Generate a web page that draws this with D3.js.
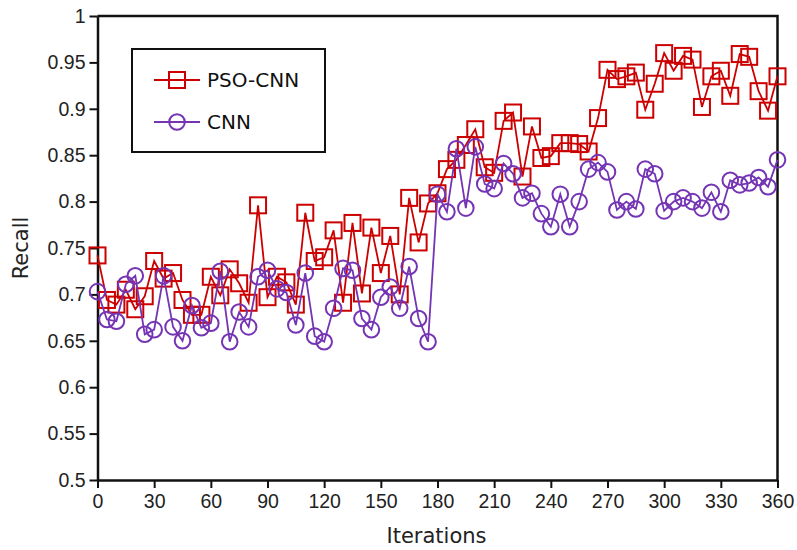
<!DOCTYPE html>
<html>
<head>
<meta charset="utf-8">
<script src="https://cdn.jsdelivr.net/npm/d3@7"></script>
<style>
  body { margin: 0; background: #fff; }
  svg { display: block; font-family: "DejaVu Sans", Verdana, sans-serif; }
</style>
</head>
<body>
<svg width="797" height="550"></svg>
<script>
// iterations, one sample every 5 steps
var iterations = d3.range(0, 361, 5);

var psoCnn = [
  0.742, 0.694, 0.689, 0.705, 0.684, 0.698, 0.736, 0.717, 0.723, 0.694,
  0.678, 0.678, 0.719, 0.699, 0.727, 0.712, 0.691, 0.796, 0.697, 0.719,
  0.713, 0.689, 0.788, 0.736, 0.740, 0.769, 0.691, 0.777, 0.701, 0.772,
  0.723, 0.763, 0.700, 0.804, 0.756, 0.798, 0.809, 0.835, 0.845, 0.861,
  0.878, 0.837, 0.831, 0.887, 0.896, 0.827, 0.881, 0.847, 0.849, 0.863,
  0.863, 0.862, 0.854, 0.890, 0.942, 0.932, 0.935, 0.939, 0.899, 0.927,
  0.960, 0.941, 0.957, 0.953, 0.902, 0.935, 0.941, 0.914, 0.959, 0.956,
  0.919, 0.898, 0.935
];

var cnn = [
  0.703, 0.673, 0.671, 0.711, 0.720, 0.657, 0.662, 0.720, 0.665, 0.650,
  0.688, 0.664, 0.669, 0.725, 0.649, 0.681, 0.665, 0.719, 0.726, 0.706,
  0.702, 0.667, 0.723, 0.655, 0.649, 0.685, 0.728, 0.726, 0.674, 0.662,
  0.697, 0.708, 0.685, 0.730, 0.674, 0.649, 0.808, 0.789, 0.857, 0.793,
  0.859, 0.819, 0.814, 0.841, 0.830, 0.804, 0.809, 0.787, 0.773, 0.808,
  0.773, 0.800, 0.835, 0.842, 0.832, 0.791, 0.800, 0.792, 0.835, 0.830,
  0.790, 0.800, 0.804, 0.800, 0.793, 0.810, 0.789, 0.823, 0.818, 0.820,
  0.826, 0.816, 0.845
];

var xTicks = d3.range(0, 361, 30);
var yTicks = [0.5, 0.55, 0.6, 0.65, 0.7, 0.75, 0.8, 0.85, 0.9, 0.95, 1];

var seriesNames = ["PSO-CNN", "CNN"];
var seriesColors = ["#cc0000", "#7434b4"];

var svg = d3.select("svg"),
    margin = {top: 16, right: 19.5, bottom: 70, left: 97.5},
    width = +svg.attr("width") - margin.left - margin.right,
    height = +svg.attr("height") - margin.top - margin.bottom,
    g = svg.append("g").attr("transform", "translate(" + margin.left + "," + margin.top + ")");

var x = d3.scaleLinear().domain([0, 360]).range([0, width]),
    y = d3.scaleLinear().domain([0.5, 1]).range([height, 0]);

var series = [
  {name: seriesNames[0], color: seriesColors[0], shape: "square",
   values: iterations.map(function(it, i) { return {it: it, v: psoCnn[i]}; })},
  {name: seriesNames[1], color: seriesColors[1], shape: "circle",
   values: iterations.map(function(it, i) { return {it: it, v: cnn[i]}; })}
];

// frame on top and right
g.append("path")
    .attr("d", "M0,0H" + width + "V" + height)
    .attr("fill", "none")
    .attr("stroke", "#111")
    .attr("stroke-width", 2.5);

var xAxis = g.append("g")
    .attr("transform", "translate(0," + height + ")")
    .call(d3.axisBottom(x).tickValues(xTicks).tickSize(8).tickPadding(6).tickSizeOuter(0));

var yAxis = g.append("g")
    .call(d3.axisLeft(y).tickValues(yTicks).tickSize(8).tickPadding(4).tickSizeOuter(0)
      .tickFormat(function(d) { return String(+d.toFixed(2)); }));

[xAxis, yAxis].forEach(function(a) {
  a.select(".domain").attr("stroke", "#111").attr("stroke-width", 2.5);
  a.selectAll(".tick line").attr("stroke", "#111").attr("stroke-width", 2);
  a.selectAll(".tick text").attr("fill", "#222").style("font-size", "19.5px");
});

svg.append("text")
    .attr("x", margin.left + width / 2 - 1)
    .attr("y", 543)
    .attr("text-anchor", "middle")
    .attr("fill", "#222")
    .style("font-size", "21px")
    .text("Iterations");

svg.append("text")
    .attr("transform", "translate(28," + (margin.top + height / 2) + ") rotate(-90)")
    .attr("text-anchor", "middle")
    .attr("fill", "#222")
    .style("font-size", "21px")
    .text("Recall");

var line = d3.line()
    .x(function(d) { return x(d.it); })
    .y(function(d) { return y(d.v); });

function drawMarker(sel, shape, color) {
  if (shape === "square") {
    sel.append("rect")
        .attr("x", -8).attr("y", -8)
        .attr("width", 16).attr("height", 16)
        .attr("fill", "none")
        .attr("stroke", color)
        .attr("stroke-width", 2);
  } else {
    sel.append("circle")
        .attr("r", 7.8)
        .attr("fill", "none")
        .attr("stroke", color)
        .attr("stroke-width", 2);
  }
}

var sg = g.selectAll(".series")
    .data(series)
    .enter().append("g")
    .attr("class", "series");

sg.append("path")
    .attr("d", function(d) { return line(d.values); })
    .attr("fill", "none")
    .attr("stroke", function(d) { return d.color; })
    .attr("stroke-width", 1.8);

sg.each(function(s) {
  d3.select(this).selectAll(".pt")
      .data(s.values)
      .enter().append("g")
      .attr("class", "pt")
      .attr("transform", function(d) { return "translate(" + x(d.it) + "," + y(d.v) + ")"; })
      .each(function() { drawMarker(d3.select(this), s.shape, s.color); });
});

// legend
var legend = svg.append("g").attr("transform", "translate(132,49)");
legend.append("rect")
    .attr("width", 193).attr("height", 103)
    .attr("fill", "#fff")
    .attr("stroke", "#111")
    .attr("stroke-width", 2);

var item = legend.selectAll(".item")
    .data(series)
    .enter().append("g")
    .attr("class", "item")
    .attr("transform", function(d, i) { return "translate(0," + (31 + i * 42) + ")"; });

item.append("line")
    .attr("x1", 22).attr("x2", 68)
    .attr("stroke", function(d) { return d.color; })
    .attr("stroke-width", 1.8);

item.append("g")
    .attr("transform", "translate(45,0)")
    .each(function(d) { drawMarker(d3.select(this), d.shape, d.color); });

item.append("text")
    .attr("x", 75)
    .attr("dy", "0.35em")
    .attr("fill", "#111")
    .style("font-size", "20px")
    .text(function(d) { return d.name; });
</script>
</body>
</html>
